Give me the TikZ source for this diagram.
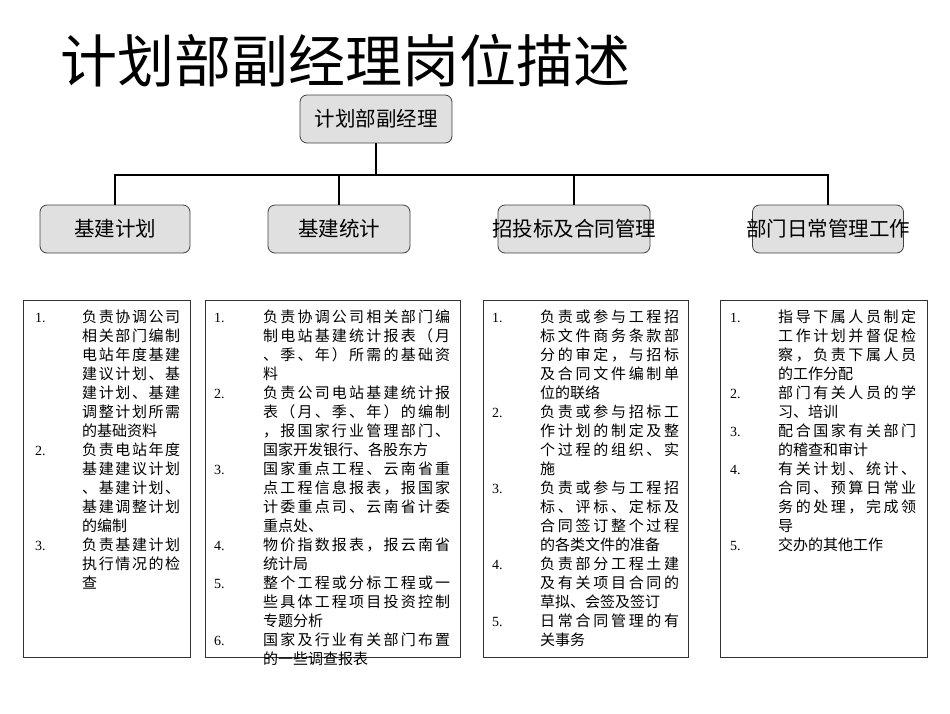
\documentclass[tikz,border=0pt]{standalone}
\usepackage{fontspec}
\setmainfont{Liberation Serif}
\newfontfamily\cjk{Noto Sans CJK SC}
\newlength\flw
\def\sprrest#1{\ifx\relax#1\else\hfil#1\expandafter\sprrest\fi}
\def\sprfirst#1{#1\sprrest}
\newcommand{\fl}[1]{\hbox to \flw{\sprfirst#1\relax}}
\begin{document}
\begin{tikzpicture}[x=1pt,y=-1pt,
  hbox/.style={draw=black!75,fill=black!12,rounded corners=7pt,line width=0.8pt},
  conn/.style={line width=2.6pt},
  tbox/.style={draw=black!80,line width=0.8pt},
  ln/.style={anchor=base west,inner sep=0pt,font=\cjk\fontsize{15}{19}\selectfont},
  num/.style={anchor=base west,inner sep=0pt,font=\fontsize{14}{19}\selectfont},
  lbl/.style={font=\cjk\fontsize{20.5}{24}\selectfont,inner sep=0pt}]
\useasboundingbox (0,0) rectangle (950,713);
\node[anchor=base west,inner sep=0pt,font=\cjk\fontsize{57}{60}\selectfont] (title) at (60,82) {计划部副经理岗位描述};
\node[hbox,minimum width=152pt,minimum height=48pt] (top) at (376,119) {};
\node[lbl] at (top.center) {计划部副经理};
\node[hbox,minimum width=150pt,minimum height=48pt] (b1) at (115,229) {};
\node[hbox,minimum width=142pt,minimum height=48pt] (b2) at (339,229) {};
\node[hbox,minimum width=152pt,minimum height=48pt] (b3) at (574,229) {};
\node[hbox,minimum width=151pt,minimum height=48pt] (b4) at (828,229) {};
\node[lbl] at (b1.center) {基建计划};
\node[lbl] at (b2.center) {基建统计};
\node[lbl] at (b3.center) {招投标及合同管理};
\node[lbl] at (b4.center) {部门日常管理工作};
\coordinate (j) at (376,175);
\draw[conn] (top.south) -- (j);
\draw[conn] (j) -| (b1.north);
\draw[conn] (j) -| (b2.north);
\draw[conn] (j) -| (b3.north);
\draw[conn] (j) -| (b4.north);
\draw[tbox] (23,300) rectangle (190,657);
\draw[tbox] (205,300) rectangle (460,657);
\draw[tbox] (483,300) rectangle (688,657);
\draw[tbox] (720,300) rectangle (927,657);
% box 1
\setlength\flw{98pt}
\foreach \t [count=\i from 0] in {\fl{负责协调公司},\fl{相关部门编制},\fl{电站年度基建},\fl{建议计划、基},\fl{建计划、基建},\fl{调整计划所需},的基础资料,\fl{负责电站年度},\fl{基建建议计划},\fl{、基建计划、},\fl{基建调整计划},的编制,\fl{负责基建计划},\fl{执行情况的检},查}
  \node[ln] (a\i) at (82,{322+19*\i}) {\t};
\foreach \n/\k in {1/0,2/7,3/12} \node[num] (an\n) at (35,{322+19*\k}) {\n.};
% box 2
\setlength\flw{187pt}
\foreach \t [count=\i from 0] in {\fl{负责协调公司相关部门编},\fl{制电站基建统计报表（月},\fl{、季、年）所需的基础资},料,\fl{负责公司电站基建统计报},\fl{表（月、季、年）的编制},\fl{，报国家行业管理部门、},国家开发银行、各股东方,\fl{国家重点工程、云南省重},\fl{点工程信息报表，报国家},\fl{计委重点司、云南省计委},重点处、,\fl{物价指数报表，报云南省},统计局,\fl{整个工程或分标工程或一},\fl{些具体工程项目投资控制},专题分析,\fl{国家及行业有关部门布置},的一些调查报表}
  \node[ln] (b\i) at (263,{322+19*\i}) {\t};
\foreach \n/\k in {1/0,2/4,3/8,4/12,5/14,6/17} \node[num] (bn\n) at (214,{322+19*\k}) {\n.};
% box 3
\setlength\flw{139pt}
\foreach \t [count=\i from 0] in {\fl{负责或参与工程招},\fl{标文件商务条款部},\fl{分的审定，与招标},\fl{及合同文件编制单},位的联络,\fl{负责或参与招标工},\fl{作计划的制定及整},\fl{个过程的组织、实},施,\fl{负责或参与工程招},\fl{标、评标、定标及},\fl{合同签订整个过程},的各类文件的准备,\fl{负责部分工程土建},\fl{及有关项目合同的},草拟、会签及签订,\fl{日常合同管理的有},关事务}
  \node[ln] (c\i) at (540,{322+19*\i}) {\t};
\foreach \n/\k in {1/0,2/5,3/9,4/13,5/16} \node[num] (cn\n) at (492,{322+19*\k}) {\n.};
% box 4
\setlength\flw{138pt}
\foreach \t [count=\i from 0] in {\fl{指导下属人员制定},\fl{工作计划并督促检},\fl{察，负责下属人员},的工作分配,\fl{部门有关人员的学},习、培训,\fl{配合国家有关部门},的稽查和审计,\fl{有关计划、统计、},\fl{合同、预算日常业},\fl{务的处理，完成领},导,交办的其他工作}
  \node[ln] (d\i) at (778,{322+19*\i}) {\t};
\foreach \n/\k in {1/0,2/4,3/6,4/8,5/12} \node[num] (dn\n) at (730,{322+19*\k}) {\n.};
\end{tikzpicture}
\end{document}
